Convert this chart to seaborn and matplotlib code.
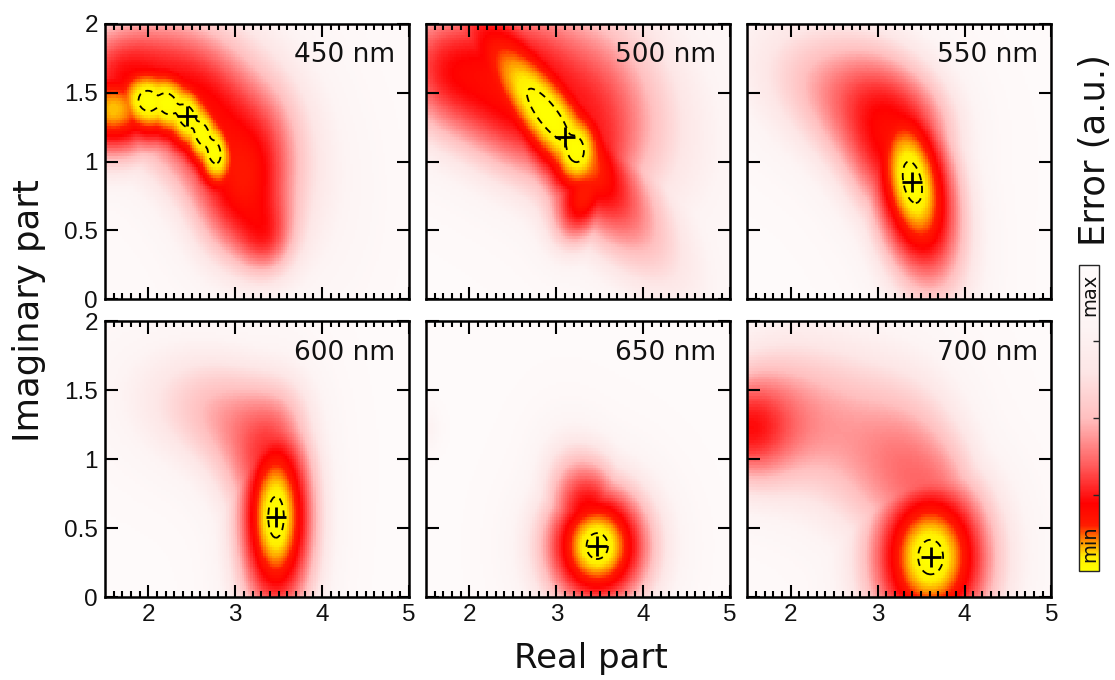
import numpy as np
import pandas as pd
import matplotlib
matplotlib.use("Agg")
import matplotlib.pyplot as plt
import seaborn as sns
from matplotlib.colors import LinearSegmentedColormap, Normalize
from matplotlib.cm import ScalarMappable

# panel labels and best fit (real, imaginary) marked with "+"
wavelengths = ["450 nm", "500 nm", "550 nm", "600 nm", "650 nm", "700 nm"]
n_fit = [2.44, 3.10, 3.40, 3.47, 3.47, 3.61]
k_fit = [1.33, 1.18, 0.85, 0.58, 0.37, 0.29]

# minimum basins (yellow cores): (n, k, width_n, width_k, angle_deg, depth)
cores_450 = [(2.00, 1.44, 0.50, 0.33, -5, 1.0), (2.22, 1.42, 0.50, 0.33, -15, 1.0),
             (2.44, 1.33, 0.50, 0.33, -30, 1.0), (2.62, 1.20, 0.45, 0.31, -45, 1.0),
             (2.76, 1.07, 0.40, 0.30, -60, 1.0), (1.60, 1.38, 0.60, 0.33, 0, 0.93)]
cores_500 = [(2.90, 1.34, 1.30, 0.40, -37, 1.0), (3.22, 1.09, 0.45, 0.40, -40, 1.0)]
cores_550 = [(3.40, 0.85, 0.71, 0.44, -66, 1.0)]
cores_600 = [(3.47, 0.58, 0.40, 0.67, 0, 1.0)]
cores_650 = [(3.47, 0.37, 0.55, 0.42, 0, 1.0)]
cores_700 = [(3.61, 0.29, 0.64, 0.56, 0, 1.0)]

# broad low-error regions (red / pink): same fields
halos_450 = [(1.70, 1.60, 0.60, 0.40, 0, 0.72), (2.60, 1.35, 0.55, 0.45, -35, 0.65),
             (3.10, 0.85, 0.35, 0.45, -40, 0.62), (3.35, 0.45, 0.25, 0.22, 0, 0.50),
             (3.30, 1.10, 0.90, 0.70, -40, 0.40)]
halos_500 = [(1.80, 1.65, 0.70, 0.45, -10, 0.72), (2.60, 1.50, 0.50, 0.45, -35, 0.60),
             (3.30, 0.72, 0.20, 0.30, -45, 0.70), (3.40, 1.25, 0.55, 0.50, -35, 0.50),
             (3.70, 1.50, 1.10, 0.70, -30, 0.40)]
halos_550 = [(2.50, 1.50, 0.90, 0.45, -15, 0.50), (3.10, 1.25, 0.50, 0.40, -35, 0.55),
             (3.62, 0.55, 0.15, 0.15, 0, 0.60), (3.35, 0.95, 0.40, 0.50, -45, 0.50)]
halos_600 = [(3.40, 0.95, 0.35, 0.50, -30, 0.60), (2.50, 1.35, 0.80, 0.40, -10, 0.35),
             (3.00, 1.30, 0.50, 0.35, -20, 0.30)]
halos_650 = [(3.40, 0.55, 0.30, 0.35, -50, 0.70), (3.20, 0.75, 0.40, 0.35, -55, 0.45),
             (1.50, 1.22, 0.12, 0.12, 0, 0.25)]
halos_700 = [(1.50, 1.22, 0.50, 0.35, 0, 0.70), (2.40, 1.30, 0.80, 0.55, -20, 0.45),
             (3.30, 0.95, 0.55, 0.60, -40, 0.45), (3.80, 0.60, 0.40, 0.40, -20, 0.45)]

cores = [cores_450, cores_500, cores_550, cores_600, cores_650, cores_700]
halos = [halos_450, halos_500, halos_550, halos_600, halos_650, halos_700]
contour_level = 0.025

n_lo, n_hi, dn = 1.5, 5.0, 0.025
k_lo, k_hi, dk = 0.0, 2.0, 0.02


def basin(N, K, blob):
    n0, k0, sn, sk, ang, depth = blob
    a = np.deg2rad(ang)
    u = np.cos(a) * (N - n0) + np.sin(a) * (K - k0)
    v = -np.sin(a) * (N - n0) + np.cos(a) * (K - k0)
    return 1 - depth * np.exp(-0.5 * (u ** 2 / sn ** 2 + v ** 2 / sk ** 2))


def error_map(core_list, halo_list):
    """ relative error on the (n, k) grid, 0 = best fit, 1 = worst """
    n = n_lo + (np.arange(round((n_hi - n_lo) / dn)) + 0.5) * dn
    k = k_lo + (np.arange(round((k_hi - k_lo) / dk)) + 0.5) * dk
    N, K = np.meshgrid(n, k)
    halo = np.ones_like(N)
    for b in halo_list:
        halo *= basin(N, K, b)
    parts = np.array([basin(N, K, b) for b in core_list] + [halo])
    # smooth minimum
    T = 0.012
    m = parts.min(axis=0)
    err = m - T * np.log(np.exp(-(parts - m) / T).sum(axis=0))
    err = np.clip(err, 0, 1)
    return pd.DataFrame(err, index=np.round(k, 3), columns=np.round(n, 3))


def to_u(n):
    return (np.asarray(n) - n_lo) / dn


def to_v(k):
    return (np.asarray(k) - k_lo) / dk


cmap = LinearSegmentedColormap.from_list("err", [
    (0.00, "#ffff00"), (0.045, "#ffee00"), (0.09, "#ff9900"), (0.15, "#ff1a00"),
    (0.22, "#ff0000"), (0.35, "#ff6060"), (0.50, "#ffc0c0"), (0.65, "#fde6e6"),
    (0.80, "#fdf4f4"), (1.00, "#fefafa")])

sns.set_style("ticks")
plt.rcParams["font.family"] = ["DejaVu Sans"]
tick_font = "Liberation Sans"

fig, axes = plt.subplots(2, 3, figsize=(11.15, 6.8), dpi=100)
fig.subplots_adjust(left=0.094, right=0.943, top=0.965, bottom=0.122,
                    wspace=0.056, hspace=0.08)

for i, ax in enumerate(axes.flat):
    df = error_map(cores[i], halos[i])
    sns.heatmap(df, ax=ax, cmap=cmap, vmin=0, vmax=1, cbar=False,
                xticklabels=False, yticklabels=False)
    uc = np.arange(df.shape[1]) + 0.5
    vc = np.arange(df.shape[0]) + 0.5
    ax.contour(uc, vc, df.values, levels=[contour_level], colors="black",
               linewidths=1.3, linestyles=[(0, (4, 3))])
    ax.plot(to_u(n_fit[i]), to_v(k_fit[i]), marker="+", color="black",
            markersize=14, markeredgewidth=2)
    ax.set_xlim(0, df.shape[1])
    ax.set_ylim(0, df.shape[0])
    ax.set_axisbelow(False)
    for s in ax.spines.values():
        s.set_visible(True)
        s.set_linewidth(1.8)
        s.set_color("black")
        s.set_zorder(5)
    ax.set_xticks(to_u([2, 3, 4, 5]))
    ax.set_xticks(to_u(np.arange(1.6, 5.0, 0.1)), minor=True)
    ax.set_yticks(to_v([0, 0.5, 1, 1.5, 2]))
    ax.set_xlabel("")
    ax.set_ylabel("")
    ax.tick_params(which="both", direction="in", top=True, right=True,
                   bottom=True, left=True, width=1.5, color="black",
                   labelsize=17.5, labelcolor="#111111", pad=5)
    ax.tick_params(which="major", length=9)
    ax.tick_params(which="minor", length=4.5)
    if i >= 3:
        ax.set_xticklabels(["2", "3", "4", "5"], family=tick_font)
    else:
        ax.set_xticklabels([])
    if i % 3 == 0:
        ax.set_yticklabels(["0", "0.5", "1", "1.5", "2"], rotation=0,
                           family=tick_font)
    else:
        ax.set_yticklabels([])
    ax.text(0.955, 0.885, wavelengths[i], transform=ax.transAxes, ha="right",
            va="center", fontsize=19, color="#111111")

fig.text(0.53, 0.032, "Real part", ha="center", va="center", fontsize=24.5,
         color="#111111")
fig.text(0.026, 0.543, "Imaginary part", ha="center", va="center",
         fontsize=25.5, rotation=90, color="#111111")

# colour bar
cax = fig.add_axes([0.968, 0.160, 0.018, 0.451])
fig.colorbar(ScalarMappable(norm=Normalize(0, 1), cmap=cmap), cax=cax)
cax.set_yticks([0.25, 0.5, 0.75])
cax.set_axisbelow(False)
cax.tick_params(direction="in", length=4, width=1, left=False, right=True,
                labelright=False)
for s in cax.spines.values():
    s.set_linewidth(1)
cax.text(0.5, 0.97, "max", transform=cax.transAxes, rotation=90, ha="center",
         va="top", fontsize=14, color="#111111")
cax.text(0.5, 0.03, "min", transform=cax.transAxes, rotation=90, ha="center",
         va="bottom", fontsize=14, color="#111111")
fig.text(0.982, 0.78, "Error (a.u.)", rotation=90, ha="center", va="center",
         fontsize=25.5, color="#111111")

fig.savefig("out.png", dpi=100)
